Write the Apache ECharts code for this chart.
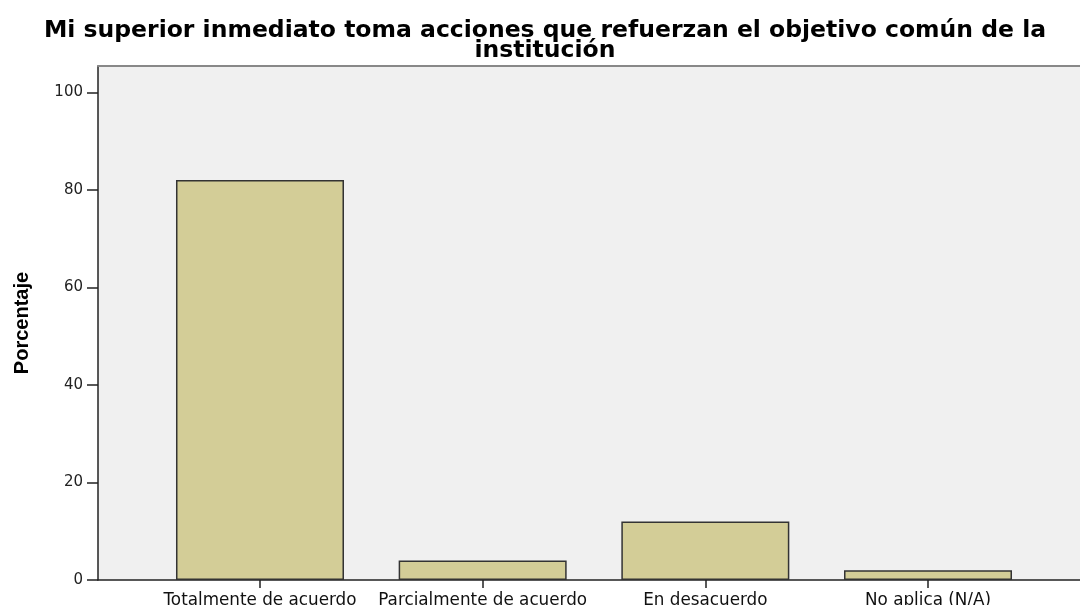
<!DOCTYPE html>
<html>
<head>
<meta charset="utf-8">
<script src="https://cdn.jsdelivr.net/npm/echarts@6/dist/echarts.min.js"></script>
<style>html,body{margin:0;padding:0;background:#fff;}#c{width:1080px;height:605px;}</style>
</head>
<body>
<div id="c"></div>
<script>
var titleText = 'Mi superior inmediato toma acciones que refuerzan el objetivo común de la\ninstitución';
var categories = ['Totalmente de acuerdo', 'Parcialmente de acuerdo', 'En desacuerdo', 'No aplica (N/A)'];
var percentages = [82, 4, 12, 2];
var yTicks = [0, 20, 40, 60, 80, 100];

var chart = echarts.init(document.getElementById('c'), null, {renderer: 'canvas'});
var catIdx = categories.map(function (c, i) { return i; });
var barData = percentages.map(function (v, i) { return [i, v]; });

chart.setOption({
  animation: false,
  backgroundColor: '#ffffff',
  title: {
    text: titleText,
    left: 540,
    textAlign: 'center',
    top: 16,
    textStyle: {
      fontFamily: 'DejaVu Sans',
      fontWeight: 'bold',
      fontSize: 23.5,
      lineHeight: 20,
      color: '#000'
    }
  },
  grid: {
    left: 98, right: 0, top: 66, bottom: 25,
    outerBoundsMode: 'none',
    containLabel: false,
    show: true,
    backgroundColor: '#f0f0f0',
    borderWidth: 0
  },
  xAxis: [{
    type: 'value',
    min: -0.7275,
    max: 3.6826,
    splitLine: {show: false},
    axisLine: {show: true, onZero: false, lineStyle: {color: '#222', width: 1.5}},
    axisTick: {show: true, customValues: catIdx, length: 8, lineStyle: {color: '#222', width: 1.5}},
    axisLabel: {
      customValues: catIdx,
      formatter: function (v) { return categories[Math.round(v)]; },
      fontFamily: 'DejaVu Sans',
      fontSize: 16.8,
      color: '#111',
      margin: 12
    }
  }, {
    type: 'value',
    position: 'top',
    min: -0.7275,
    max: 3.6826,
    splitLine: {show: false},
    axisLine: {show: true, onZero: false, lineStyle: {color: '#888', width: 2}},
    axisTick: {show: false},
    axisLabel: {show: false}
  }],
  yAxis: {
    type: 'value',
    min: 0,
    max: 105.4,
    name: 'Porcentaje',
    nameLocation: 'middle',
    nameRotate: 90,
    nameGap: 66,
    nameTextStyle: {
      fontFamily: 'Liberation Sans Narrow, Liberation Sans',
      fontWeight: 'bold',
      fontSize: 20,
      color: '#000'
    },
    splitLine: {show: false},
    axisLine: {show: true, onZero: false, lineStyle: {color: '#222', width: 1.5}},
    axisTick: {show: true, customValues: yTicks, length: 11, lineStyle: {color: '#222', width: 1.5}},
    axisLabel: {
      customValues: yTicks,
      fontFamily: 'DejaVu Sans',
      fontSize: 15,
      color: '#222',
      margin: 15
    }
  },
  series: [{
    type: 'bar',
    xAxisIndex: 0,
    data: barData,
    barWidth: 168,
    itemStyle: {color: '#d3cd97', borderColor: '#333', borderWidth: 1.5}
  }]
});
</script>
</body>
</html>
